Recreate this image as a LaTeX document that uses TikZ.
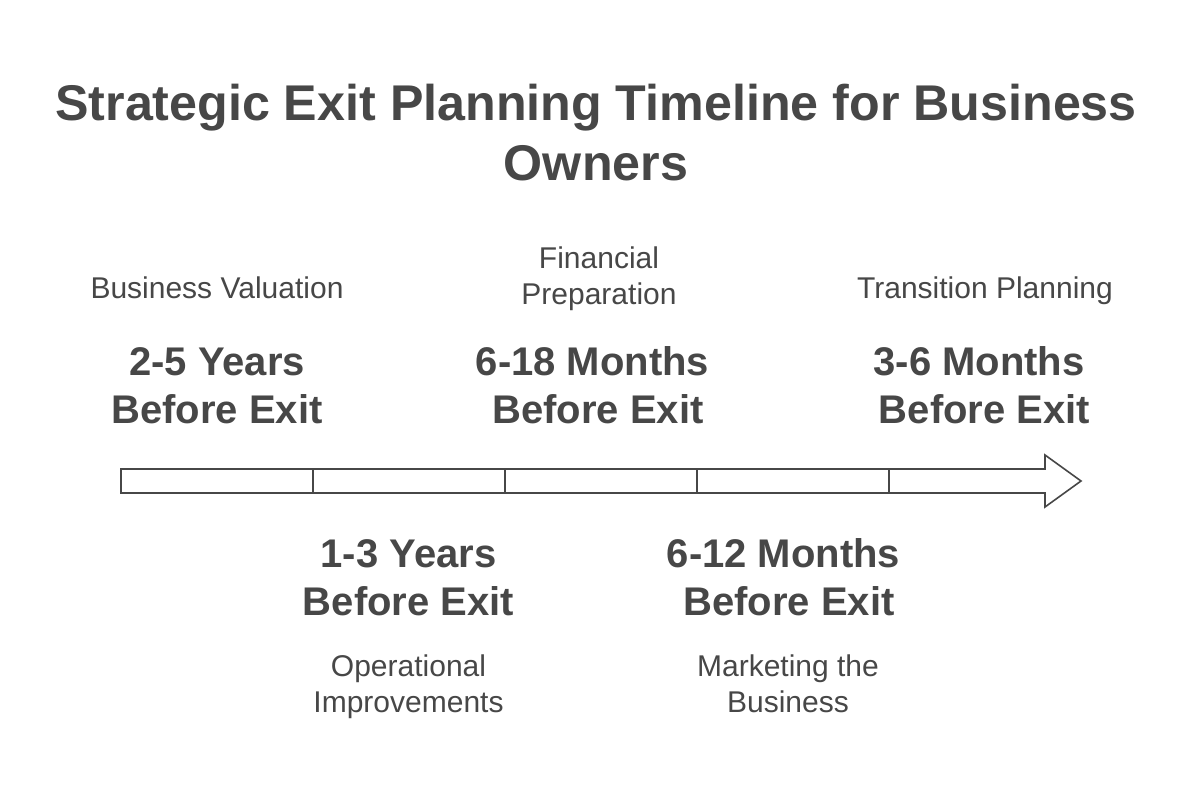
\documentclass[tikz,border=0pt]{standalone}
\usepackage{fontspec}
\setmainfont{Liberation Sans}
\definecolor{ink}{HTML}{474747}
\newcommand{\trsp}{\rule{11pt}{0pt}}
\begin{document}
\begin{tikzpicture}[x=1pt,y=-1pt,
  titletext/.style={font=\fontsize{50.2}{60}\selectfont\bfseries, text=ink, align=center, inner sep=0pt, anchor=base},
  period/.style={font=\fontsize{40}{48}\selectfont\bfseries, text=ink, align=center, inner sep=0pt, anchor=base},
  phase/.style={font=\fontsize{30}{36}\selectfont, text=ink, align=center, inner sep=0pt, anchor=base},
  bar/.style={draw=ink, line width=1.6pt, line join=miter}]
\useasboundingbox[fill=white] (0,0) rectangle (1202,794);

% anchor=base of a multi-line node is the baseline of its last line
\node[titletext] (title) at (596,181) {Strategic Exit Planning Timeline for Business\\Owners};

% timeline arrow
\coordinate (a0) at (121,469);
\coordinate (b0) at (121,493);
\draw[bar] (a0) -- (1045,469) -- (1045,455) -- (1081,481) -- (1045,507) -- (1045,493) -- (b0) -- cycle;
\foreach \x [count=\i] in {313,505,697,889}{
  \coordinate (t\i) at (\x,469);
  \coordinate (u\i) at (\x,493);
  \draw[bar] (t\i) -- (u\i);
}

% top labels
\node[phase] (p1) at (217,299) {Business Valuation};
\node[period] (d1) at (217,423) {2-5 Years\\Before Exit};

\node[phase] (p3) at (599,305) {Financial\\Preparation};
\node[period] (d3) at (598,423) {6-18 Months\trsp\\Before Exit};

\node[phase] (p5) at (985,299) {Transition Planning};
\node[period] (d5) at (984.5,423) {3-6 Months\trsp\\Before Exit};

% bottom labels
\node[period] (d2) at (408.5,615) {1-3 Years\\Before Exit};
\node[phase] (p2) at (408.5,712) {Operational\\Improvements};

\node[period] (d4) at (789,615) {6-12 Months\trsp\\Before Exit};
\node[phase] (p4) at (788,712) {Marketing the\\Business};
\end{tikzpicture}
\end{document}
